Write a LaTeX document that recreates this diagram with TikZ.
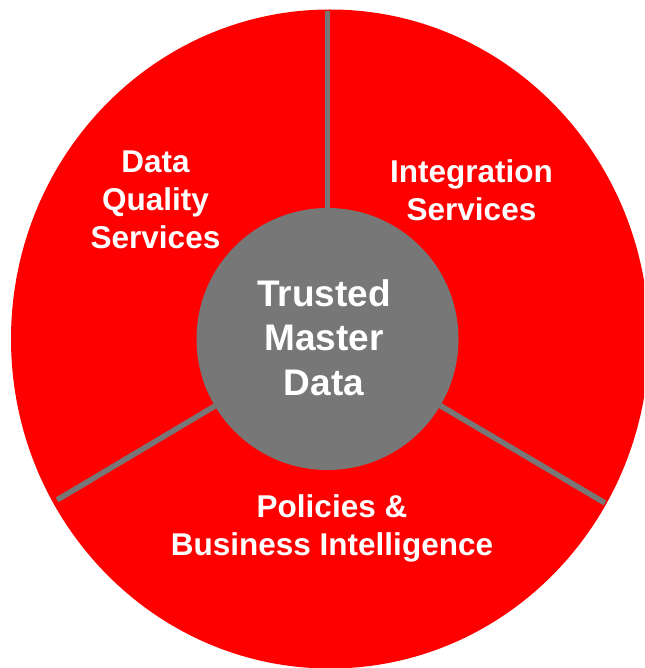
\documentclass[tikz,border=0pt]{standalone}
\usepackage{fontspec}
\setmainfont{Liberation Sans}
\definecolor{ringred}{RGB}{254,0,0}
\definecolor{hubgray}{RGB}{119,119,119}
\begin{document}
\begin{tikzpicture}[x=1pt,y=-1pt,
  seglabel/.style={text=white,align=center,inner sep=0pt,anchor=center,font=\bfseries\fontsize{31.5}{38}\selectfont},
  divider/.style={draw=hubgray,line width=5.5pt},
]
\useasboundingbox (0,0) rectangle (644,668);
\clip (0,0) rectangle (644,668);
\fill[ringred] (330,339) ellipse [x radius=319, y radius=329.5];
\coordinate (c) at (327.5,339);
\coordinate (topend) at (327.5,11);
\coordinate (leftend) at (57,500);
\coordinate (rightend) at (605,503);
\draw[divider] (c) -- (topend);
\draw[divider] (c) -- (leftend);
\draw[divider] (c) -- (rightend);
\node[circle,fill=hubgray,minimum size=262pt,inner sep=0pt] (hub) at (c) {};
\node[seglabel,font=\bfseries\fontsize{37}{44.5}\selectfont] (hubtext) at (324,337.5) {Trusted\\Master\\Data};
\node[seglabel] (dq) at (155.5,199.5) {Data\\Quality\\Services};
\node[seglabel] (integ) at (471.5,190.5) {Integration\\Services};
\node[seglabel] (pol) at (332,528) {Policies \&\\Business Intelligence};
\end{tikzpicture}
\end{document}
